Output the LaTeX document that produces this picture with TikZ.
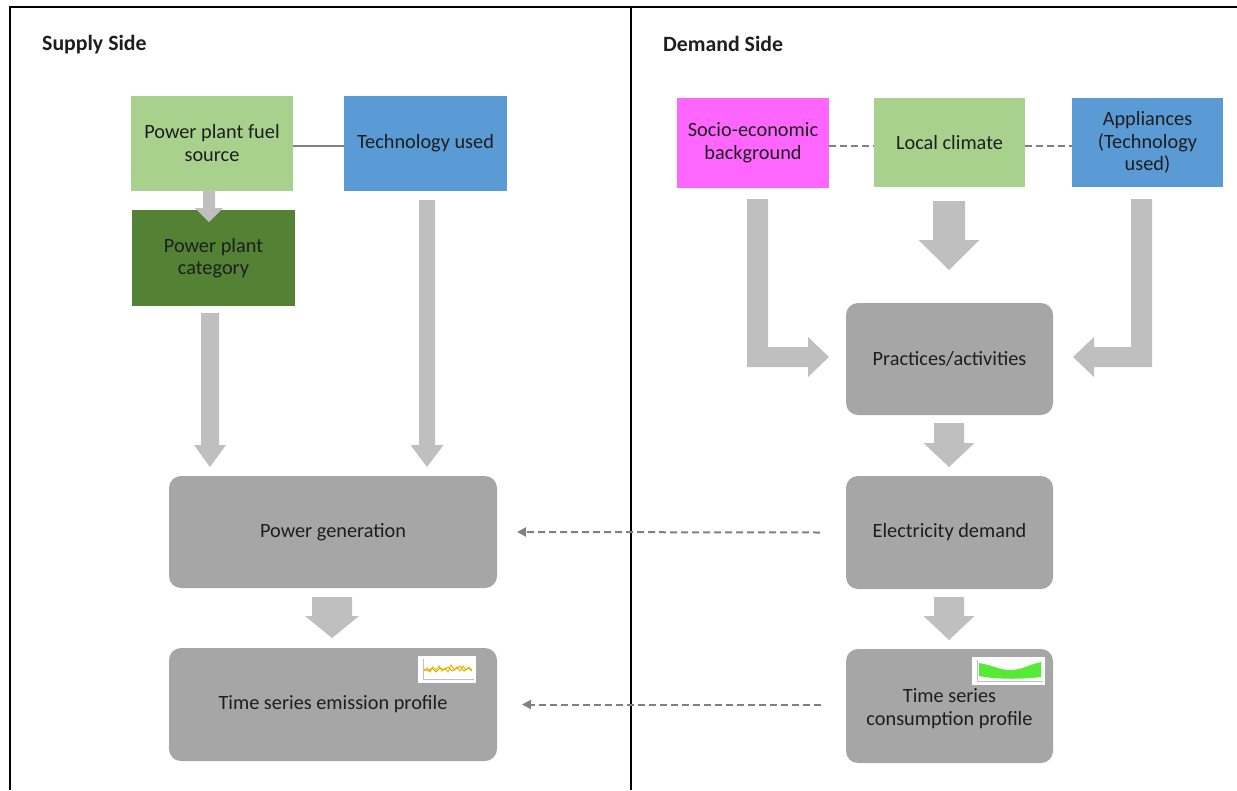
\documentclass[tikz,border=0pt]{standalone}
\usepackage{fontspec}
\setmainfont{Carlito}
\usetikzlibrary{arrows.meta}
\definecolor{lgreen}{HTML}{A9D18E}
\definecolor{dgreen}{HTML}{548235}
\definecolor{sblue}{HTML}{5B9BD5}
\definecolor{magen}{HTML}{FF66FF}
\definecolor{boxgray}{HTML}{A6A6A6}
\definecolor{arrgray}{HTML}{BFBFBF}
\definecolor{lnkgray}{HTML}{808080}
\definecolor{txt}{HTML}{1E1E1E}
\newcommand\bdown[6]{%
  \fill[arrgray] ({#1-#4/2},#2) -- ({#1+#4/2},#2) -- ({#1+#4/2},{#3-#6}) -- ({#1+#5/2},{#3-#6}) -- (#1,#3) -- ({#1-#5/2},{#3-#6}) -- ({#1-#4/2},{#3-#6}) -- cycle;}
\tikzset{
  lbl/.style={font=\fontsize{20.3}{22.5}\selectfont, text=txt, align=center},
  sbox/.style={lbl, rectangle, inner sep=0pt, outer sep=0pt},
  gbox/.style={lbl, rectangle, rounded corners=12pt, fill=boxgray, inner sep=0pt, outer sep=0pt},
  head/.style={font=\fontsize{21.8}{24}\selectfont\bfseries, text=txt, anchor=west, inner sep=0pt},
  frame/.style={line width=1.5pt, black},
  link/.style={lnkgray, line width=2pt},
  dlink/.style={lnkgray, line width=2pt, dash pattern=on 7pt off 4pt},
  darr/.style={lnkgray, line width=2pt, dash pattern=on 7pt off 4pt, -{Triangle[length=9pt,width=9pt]}}
}
\begin{document}
\begin{tikzpicture}[x=1pt,y=-1pt]
\useasboundingbox (0,0) rectangle (1237,790);
% frame
\draw[frame] (10,790) -- (10,7) -- (1237,7);
\draw[frame] (631,7) -- (631,790);
% headings
\node[head] (hs) at (42,45) {Supply Side};
\node[head] (hd) at (663,44) {Demand Side};
% supply boxes
\node[sbox, fill=lgreen, minimum width=162pt, minimum height=95pt] (fuel) at (212,143) {Power plant fuel\\source};
\node[sbox, fill=sblue, minimum width=163pt, minimum height=95pt] (tech) at (425.5,143) {Technology used};
\draw[link] ([yshift=-3pt]fuel.east) -- ([yshift=-3pt]tech.west);
\node[sbox, fill=dgreen, minimum width=163pt, minimum height=96pt] (cat) at (213.5,258) {Power plant\\category};
\bdown{209}{190}{222}{12}{28}{14}
\bdown{210}{313}{467}{18}{32}{22}
\bdown{427}{200}{467}{16}{33}{22}
\node[gbox, minimum width=328pt, minimum height=112pt] (gen) at (333,532) {Power generation};
\bdown{332}{597}{638}{40}{54}{22}
\node[gbox, minimum width=328pt, minimum height=113pt] (emis) at (333,704.5) {Time series emission profile};
% emission chart
\fill[white] (418,656) rectangle (476,683);
\draw[black!25, line width=0.4pt] (423,659) -- (423,679) -- (474,679);
\draw[orange!60!yellow, line width=1pt] (424,671) -- (427,668) -- (430,672) -- (433,667) -- (436,670) -- (439,666) -- (442,671) -- (445,668) -- (448,672) -- (451,665) -- (454,670) -- (457,667) -- (460,671) -- (463,666) -- (466,670) -- (469,667) -- (472,670);
\draw[olive!60!yellow, line width=0.8pt] (424,669) -- (428,671) -- (432,668) -- (436,672) -- (440,668) -- (444,670) -- (448,667) -- (452,671) -- (456,669) -- (460,666) -- (464,671) -- (468,668) -- (472,671);
% demand boxes
\node[sbox, fill=magen, minimum width=152pt, minimum height=90pt] (socio) at (753,143) {Socio-economic\\background};
\node[sbox, fill=lgreen, minimum width=151pt, minimum height=89pt] (clim) at (949.5,142.5) {Local climate};
\node[sbox, fill=sblue, minimum width=151pt, minimum height=89pt] (appl) at (1147.5,142.5) {Appliances\\(Technology\\used)};
\draw[dlink] ([yshift=-3pt]socio.east) -- ([yshift=-3.5pt]clim.west);
\draw[dlink] ([yshift=-3.5pt]clim.east) -- ([yshift=-3.5pt]appl.west);
\node[gbox, minimum width=207pt, minimum height=112pt] (prac) at (949.5,359) {Practices/activities};
\bdown{949}{201}{270}{32}{61}{30}
\fill[arrgray] (747,199) -- (768,199) -- (768,347) -- (808,347) -- (808,337) -- (829,357) -- (808,377) -- (808,367) -- (747,367) -- cycle;
\fill[arrgray] (1152,199) -- (1131,199) -- (1131,347) -- (1094,347) -- (1094,337) -- (1073,357) -- (1094,377) -- (1094,367) -- (1152,367) -- cycle;
\bdown{949}{423}{467}{30}{51}{24}
\node[gbox, minimum width=207pt, minimum height=113pt] (elec) at (949.5,532.5) {Electricity demand};
\bdown{949}{597}{640}{30}{51}{24}
\node[gbox, minimum width=207pt, minimum height=114pt] (cons) at (949.5,706) {};
\node[lbl, inner sep=0pt] (constext) at (949.5,708.5) {Time series\\consumption profile};
% consumption chart
\fill[white] (972,657) rectangle (1045,685);
\draw[black!25, line width=0.4pt] (977,660) -- (977,681) -- (1043,681);
\fill[green!75!lime!90!black, opacity=0.8] (979,663) .. controls (995,666) and (1000,670) .. (1010,670) .. controls (1022,670) and (1028,665) .. (1041,662) -- (1041,677) .. controls (1025,679) and (1000,680) .. (979,676) -- cycle;
% dashed cross links
\draw[darr] ([xshift=-26pt]elec.west) -- ([xshift=20pt]gen.east);
\draw[darr] ([xshift=-25pt]cons.west |- emis.east) -- ([xshift=25pt]emis.east);
\end{tikzpicture}
\end{document}
